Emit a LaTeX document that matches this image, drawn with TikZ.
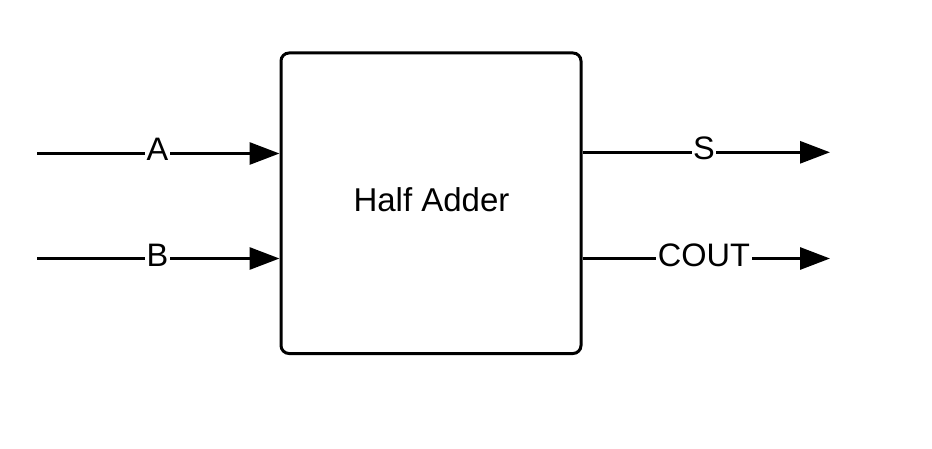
\documentclass[tikz,border=0pt]{standalone}
\usepackage{fontspec}
\setmainfont{Liberation Sans}
\usetikzlibrary{arrows.meta}
\begin{document}
\begin{tikzpicture}[x=1pt,y=-1pt,
  blockbox/.style={draw, line width=3pt, rounded corners=8pt, minimum width=300pt, minimum height=300.5pt, inner sep=0pt},
  wire/.style={line width=3pt, -{Triangle[length=30pt,width=22pt]}},
  lbl/.style={fill=white, inner sep=1.5pt, font=\fontsize{32.5}{38}\selectfont, anchor=base},
  txt/.style={font=\fontsize{33}{38}\selectfont, anchor=base}]
\useasboundingbox (0,0) rectangle (932,449);
\node[blockbox] (ha) at (431,203.25) {};
\node[txt] (hat) at (431.5,211.5) {Half Adder};
\coordinate (ain) at (37,153.5);
\coordinate (bin) at (37,258.5);
\coordinate (sout) at (830,152.3);
\coordinate (cout) at (830,258.5);
\draw[wire] (ain) -- (ain -| ha.west);
\draw[wire] (bin) -- (bin -| ha.west);
\draw[wire] (sout -| ha.east) -- (sout);
\draw[wire] (cout -| ha.east) -- (cout);
\node[lbl] (la) at (157.5,160.5) {A};
\node[lbl] (lb) at (157.5,266) {B};
\node[lbl] (ls) at (704,160) {S};
\node[lbl] (lc) at (704,266) {COUT};
\end{tikzpicture}
\end{document}
